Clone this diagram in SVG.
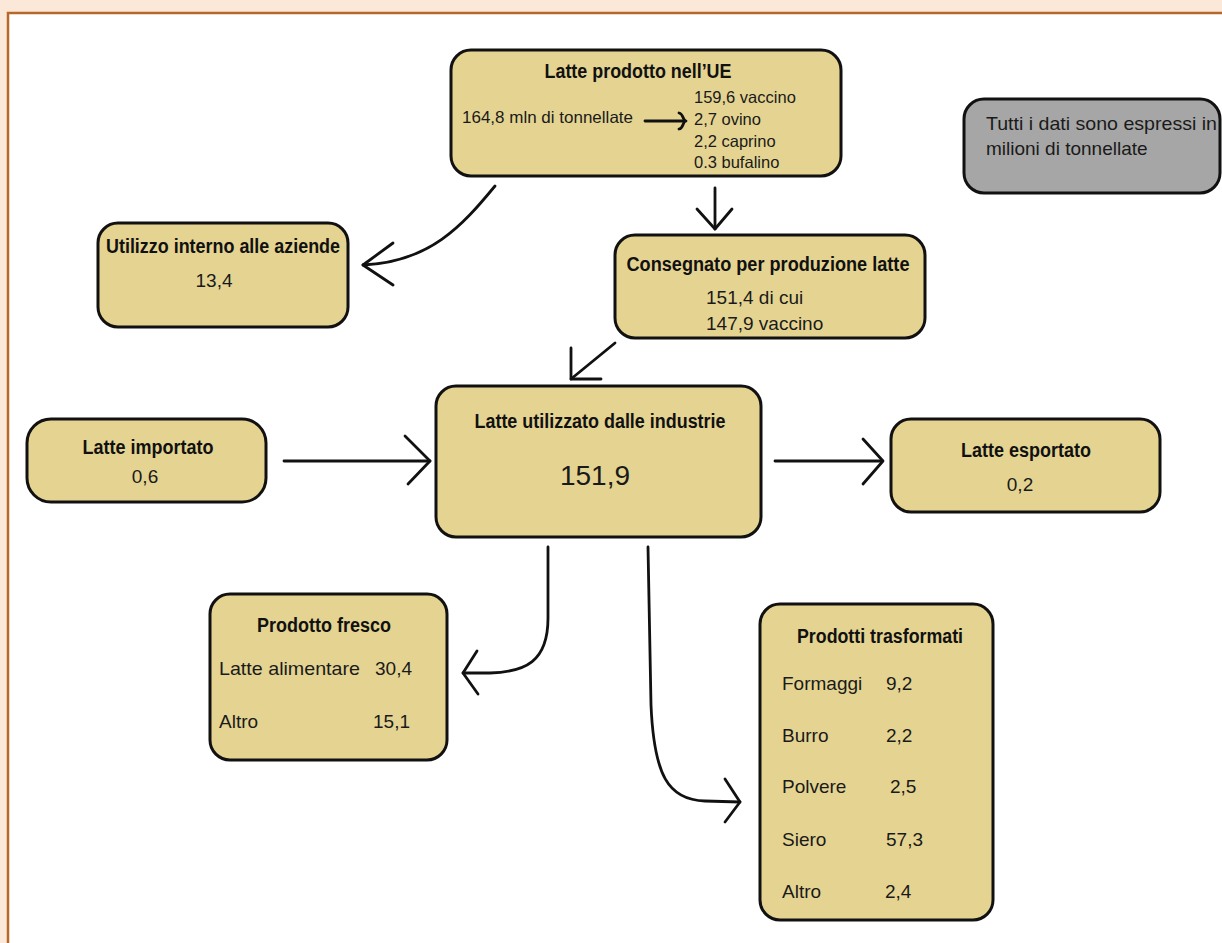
<svg xmlns="http://www.w3.org/2000/svg" width="1222" height="943" viewBox="0 0 1222 943">
<style>
.box{fill:#E5D491;stroke:#111;stroke-width:3}
.gray{fill:#A6A6A6;stroke:#111;stroke-width:3}
.t{font-family:"Liberation Sans",Arial,sans-serif;font-weight:bold;font-size:20px;fill:#111;text-anchor:middle}
.b{font-family:"Liberation Sans",Arial,sans-serif;font-size:19px;fill:#1a1a1a}
.s{font-family:"Liberation Sans",Arial,sans-serif;font-size:16.5px;fill:#1a1a1a}
.c{text-anchor:middle}
.ln{fill:none;stroke:#111;stroke-width:2.8;stroke-linecap:round;stroke-linejoin:round}
</style>
<rect x="0" y="0" width="1222" height="943" fill="#FCE8D9"/>
<rect x="8" y="13" width="1220" height="940" fill="#FFFFFF" stroke="#B8672A" stroke-width="2.5"/>

<g id="connectors">
  <path class="ln" d="M495,186 C462,226 430,262 363,265"/>
  <path class="ln" d="M393,243 L363,265 L393,285"/>
  <path class="ln" d="M715,188 V229"/>
  <path class="ln" d="M697,209 L715,229 L732,209"/>
  <path class="ln" d="M615,343 L571,379"/>
  <path class="ln" d="M571,348 V379 H601"/>
  <path class="ln" d="M284,461 H430"/>
  <path class="ln" d="M405,436 L430,461 L408,484"/>
  <path class="ln" d="M775,461 H882"/>
  <path class="ln" d="M863,439 L883,461 L863,484"/>
  <path class="ln" d="M548,547 V618 C548,662 525,672 490,673 L463,673"/>
  <path class="ln" d="M477,651 L463,673 L478,694"/>
  <path class="ln" d="M648,547 L651,705 C654,775 668,800 705,801 L740,802"/>
  <path class="ln" d="M725,779 L740,802 L725,822"/>
</g>

<g id="latte-prodotto">
  <rect class="box" x="451" y="50" width="390" height="126" rx="20"/>
  <text class="t" x="638" y="78" textLength="187" lengthAdjust="spacingAndGlyphs">Latte prodotto nell’UE</text>
  <text class="s" x="462" y="123" textLength="171" lengthAdjust="spacingAndGlyphs">164,8 mln di tonnellate</text>
  <path class="ln" d="M645,121 H683"/>
  <path class="ln" d="M679,113 C684,114 682,120 686,121 C682,122 684,128 679,129"/>
  <text class="s" x="694" y="103">159,6 vaccino</text>
  <text class="s" x="694" y="125">2,7 ovino</text>
  <text class="s" x="694" y="147">2,2 caprino</text>
  <text class="s" x="694" y="168">0.3 bufalino</text>
</g>

<g id="note">
  <rect class="gray" x="964" y="99" width="256" height="94" rx="20"/>
  <text class="b" x="986" y="130" textLength="231" lengthAdjust="spacingAndGlyphs">Tutti i dati sono espressi in</text>
  <text class="b" x="986" y="155">milioni di tonnellate</text>
</g>

<g id="utilizzo-interno">
  <rect class="box" x="98" y="223" width="250" height="104" rx="20"/>
  <text class="t" x="223" y="253" textLength="234" lengthAdjust="spacingAndGlyphs">Utilizzo interno alle aziende</text>
  <text class="b c" x="214" y="287">13,4</text>
</g>

<g id="consegnato">
  <rect class="box" x="615" y="235" width="310" height="103" rx="20"/>
  <text class="t" x="768" y="271" textLength="283" lengthAdjust="spacingAndGlyphs">Consegnato per produzione latte</text>
  <text class="b" x="706" y="304">151,4 di cui</text>
  <text class="b" x="706" y="330">147,9 vaccino</text>
</g>

<g id="latte-importato">
  <rect class="box" x="27" y="419" width="239" height="83" rx="24"/>
  <text class="t" x="148" y="454" textLength="131" lengthAdjust="spacingAndGlyphs">Latte importato</text>
  <text class="b c" x="145" y="483">0,6</text>
</g>

<g id="latte-utilizzato">
  <rect class="box" x="436" y="386" width="325" height="151" rx="20"/>
  <text class="t" x="600" y="428" textLength="251" lengthAdjust="spacingAndGlyphs">Latte utilizzato dalle industrie</text>
  <text class="b c" x="595" y="485" style="font-size:28px">151,9</text>
</g>

<g id="latte-esportato">
  <rect class="box" x="891" y="419" width="269" height="93" rx="20"/>
  <text class="t" x="1026" y="457" textLength="130" lengthAdjust="spacingAndGlyphs">Latte esportato</text>
  <text class="b c" x="1020" y="491">0,2</text>
</g>

<g id="prodotto-fresco">
  <rect class="box" x="210" y="594" width="237" height="166" rx="20"/>
  <text class="t" x="324" y="632" textLength="134" lengthAdjust="spacingAndGlyphs">Prodotto fresco</text>
  <text class="b" x="219" y="675" textLength="141" lengthAdjust="spacingAndGlyphs">Latte alimentare</text>
  <text class="b" x="375" y="675">30,4</text>
  <text class="b" x="219" y="728">Altro</text>
  <text class="b" x="373" y="728">15,1</text>
</g>

<g id="prodotti-trasformati">
  <rect class="box" x="760" y="604" width="233" height="316" rx="20"/>
  <text class="t" x="880" y="643" textLength="166" lengthAdjust="spacingAndGlyphs">Prodotti trasformati</text>
  <text class="b" x="782" y="690">Formaggi</text>
  <text class="b" x="886" y="690">9,2</text>
  <text class="b" x="782" y="742">Burro</text>
  <text class="b" x="886" y="742">2,2</text>
  <text class="b" x="782" y="793">Polvere</text>
  <text class="b" x="890" y="793">2,5</text>
  <text class="b" x="782" y="846">Siero</text>
  <text class="b" x="886" y="846">57,3</text>
  <text class="b" x="782" y="898">Altro</text>
  <text class="b" x="885" y="898">2,4</text>
</g>
</svg>
